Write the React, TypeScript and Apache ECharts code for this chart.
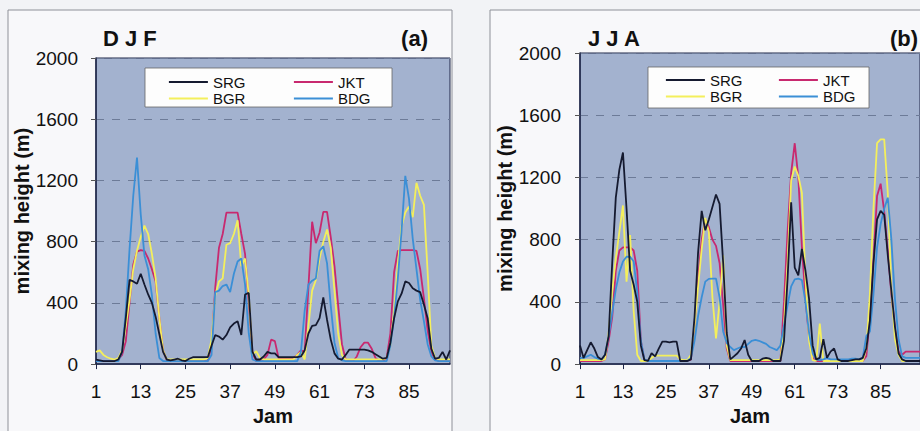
import React, { useEffect, useRef } from "react";
import * as echarts from "echarts";

const HOURS = Array.from({ length: 96 }, (_, i) => String(i + 1));
const SERIES_NAMES = ["JKT", "BGR", "BDG", "SRG"];
const COLORS: Record<string, string> = {
  SRG: "#151a30",
  JKT: "#c8296f",
  BGR: "#f4ef5c",
  BDG: "#3b8fd6",
};
const Y_MAX = 2000;
const Y_STEP = 400;
const PANEL_TITLES = ["D J F", "J J A"];
const PANEL_TAGS = ["(a)", "(b)"];

// DJF (a)
const DJF_SRG = [
  30, 25, 20, 20, 20, 20, 30, 80, 300, 550,
  540, 525, 590, 520, 455, 400, 310, 195, 80, 30,
  25, 30, 35, 25, 20, 35, 45, 45, 45, 45,
  45, 120, 190, 180, 160, 190, 240, 265, 280, 190,
  455, 465, 80, 30, 30, 50, 80, 70, 70, 45,
  45, 45, 45, 45, 45, 50, 90, 200, 250, 255,
  300, 435, 290, 160, 70, 35, 30, 60, 95, 95,
  95, 95, 95, 90, 80, 65, 50, 35, 40, 140,
  300, 410, 460, 540, 530, 495, 480, 470, 390, 300,
  100, 35, 40, 80, 30, 90,
];
const DJF_JKT = [
  20, 20, 20, 20, 20, 20, 30, 60, 150, 400,
  650, 735, 745, 740, 690, 620, 540, 300, 90, 25,
  20, 20, 20, 20, 20, 20, 20, 20, 20, 20,
  20, 120, 500, 760, 850, 990, 990, 990, 990, 850,
  720, 400, 70, 20, 30, 30, 60, 160, 150, 40,
  40, 40, 40, 40, 60, 90, 80, 500, 930, 790,
  860, 995, 995, 830, 640, 380, 130, 30, 20, 20,
  50, 110, 140, 140, 100, 40, 20, 20, 40, 200,
  600, 740, 745, 745, 745, 745, 740, 620, 430, 220,
  80, 30, 20, 20, 20, 20,
];
const DJF_BGR = [
  80, 90, 60, 45, 35, 30, 40, 90, 250, 420,
  620, 740, 830, 905, 850, 720, 560, 300, 90, 30,
  30, 30, 30, 30, 30, 30, 30, 30, 30, 30,
  40, 160, 450, 540, 560, 780, 790, 850, 940, 640,
  690, 450, 60, 85, 40, 30, 30, 30, 30, 30,
  30, 30, 30, 30, 60, 80, 30, 250, 480, 550,
  690, 800, 880, 760, 480, 200, 60, 30, 30, 30,
  30, 30, 30, 30, 30, 30, 30, 30, 40, 120,
  350, 650, 900, 990, 1030, 960, 1185, 1100, 1040, 600,
  120, 40, 30, 30, 30, 30,
];
const DJF_BDG = [
  20, 20, 20, 20, 20, 20, 20, 80, 350, 750,
  1100, 1350, 980, 710, 620, 450, 200, 40, 20, 20,
  20, 20, 20, 20, 20, 20, 20, 20, 20, 20,
  20, 60, 470, 480, 510, 520, 470, 590, 670, 690,
  520, 200, 30, 20, 20, 20, 20, 20, 20, 20,
  20, 20, 20, 20, 20, 80, 350, 520, 545, 560,
  740, 770, 660, 380, 140, 40, 25, 20, 20, 20,
  20, 20, 20, 20, 20, 20, 20, 20, 20, 120,
  300, 560, 870, 1230, 1080, 820, 620, 420, 280, 130,
  50, 25, 20, 20, 20, 20,
];

// JJA (b)
const JJA_SRG = [
  120, 40, 90, 140, 100, 45, 30, 60, 180, 650,
  1070, 1250, 1360, 1000, 600, 510, 400, 120, 25, 20,
  70, 50, 100, 145, 145, 140, 145, 145, 20, 20,
  20, 30, 300, 720, 985, 860, 930, 1010, 1090, 1030,
  650, 200, 30, 50, 70, 100, 155, 60, 20, 20,
  20, 35, 40, 35, 20, 20, 20, 150, 550, 1040,
  620, 570, 740, 600, 420, 120, 30, 40, 160, 40,
  80, 100, 30, 20, 20, 20, 25, 30, 30, 40,
  100, 280, 650, 930, 985, 960, 700, 470, 240, 70,
  30, 20, 20, 20, 20, 20,
];
const JJA_JKT = [
  20, 20, 20, 20, 20, 20, 20, 30, 150, 300,
  600, 730, 750, 750, 750, 730, 600, 150, 25, 20,
  20, 20, 20, 20, 20, 20, 20, 20, 20, 20,
  20, 30, 250, 550, 800, 930, 880, 800, 760, 650,
  380, 100, 20, 20, 20, 20, 20, 20, 20, 20,
  20, 20, 20, 20, 20, 20, 20, 400, 850, 1230,
  1420, 1200, 750, 420, 170, 40, 20, 20, 20, 20,
  20, 20, 20, 20, 20, 20, 20, 20, 20, 20,
  50, 300, 680, 1080, 1160, 980, 730, 450, 230, 80,
  60, 80, 80, 80, 80, 80,
];
const JJA_BGR = [
  25, 25, 25, 25, 25, 25, 25, 30, 200, 470,
  680, 850, 1020, 530, 830, 340, 60, 20, 20, 20,
  40, 55, 55, 55, 55, 55, 55, 55, 30, 25,
  25, 60, 250, 500, 740, 940, 850, 430, 165, 400,
  700, 120, 25, 25, 25, 25, 25, 25, 25, 25,
  25, 25, 25, 25, 25, 25, 30, 250, 650, 1180,
  1270, 1210, 1100, 550, 150, 25, 20, 260, 20, 20,
  20, 20, 20, 20, 20, 20, 20, 20, 20, 20,
  100, 450, 1000, 1420, 1445, 1445, 1100, 480, 160, 60,
  20, 20, 20, 20, 20, 20,
];
const JJA_BDG = [
  40, 40, 50, 60, 45, 35, 30, 60, 180, 330,
  480, 590, 660, 690, 690, 660, 460, 150, 30, 20,
  20, 20, 20, 20, 20, 20, 20, 20, 20, 20,
  20, 40, 150, 310, 430, 530, 548, 550, 550, 430,
  210, 135, 110, 90, 100, 110, 110, 130, 150, 155,
  150, 140, 130, 110, 100, 90, 120, 250, 380, 500,
  545, 550, 540, 400, 200, 70, 30, 25, 30, 40,
  30, 30, 30, 30, 30, 30, 35, 35, 30, 40,
  180, 210, 450, 750, 900, 1000, 1070, 800, 420, 160,
  50, 40, 40, 40, 40, 40,
];

const PANEL_DATA: Record<string, number[]>[] = [
  { SRG: DJF_SRG, JKT: DJF_JKT, BGR: DJF_BGR, BDG: DJF_BDG },
  { SRG: JJA_SRG, JKT: JJA_JKT, BGR: JJA_BGR, BDG: JJA_BDG },
];

const FONT = "'Liberation Sans', Arial, sans-serif";
const AXIS_DARK = "#1e2648";
const PLOT_BG = "#a3b2cf";
const GRID_LINE = "#6d7b98";

const LAYOUT = [
  { left: 96, top: 58, width: 354, height: 310, labelMargin: 18, nameGap: 57, frameX: 8, frameW: 444,
    legBox: [145, 68, 247, 39], leg1: [168, 74.5], leg2: [293, 74.5], titleX: 103, tagX: 428 },
  { left: 580, top: 53, width: 350, height: 315, labelMargin: 19, nameGap: 58, frameX: 490, frameW: 440,
    legBox: [648, 67, 221, 41], leg1: [665, 72.5], leg2: [778, 72.5], titleX: 588, tagX: 918 },
];

export default function App() {
  const ref = useRef<HTMLDivElement>(null);
  useEffect(() => {
    if (!ref.current) return;
    const chart = echarts.init(ref.current, undefined, { renderer: "svg" });

    const grids: any[] = [];
    const xAxes: any[] = [];
    const yAxes: any[] = [];
    const series: any[] = [];
    const legends: any[] = [];
    const graphics: any[] = [];

    LAYOUT.forEach((L, p) => {
      graphics.push({
        type: "rect", z: -10,
        shape: { x: L.frameX, y: 10, width: L.frameW, height: 440 },
        style: { fill: "#f8f8fa", stroke: "#8e9098", lineWidth: 1 },
      });
      graphics.push({
        type: "text", z: 5, x: L.titleX, y: 38,
        style: { text: PANEL_TITLES[p], font: `bold 22px ${FONT}`, fill: "#111", textVerticalAlign: "middle" },
      });
      graphics.push({
        type: "text", z: 5, x: L.tagX, y: 38,
        style: { text: PANEL_TAGS[p], font: `bold 22px ${FONT}`, fill: "#111", textAlign: "right", textVerticalAlign: "middle" },
      });
      graphics.push({
        type: "rect", z: 3,
        shape: { x: L.legBox[0], y: L.legBox[1], width: L.legBox[2], height: L.legBox[3] },
        style: { fill: "#fdfdfd", stroke: "#666", lineWidth: 0.8 },
      });

      grids.push({
        left: L.left, top: L.top, width: L.width, height: L.height,
        show: true, backgroundColor: PLOT_BG, borderColor: AXIS_DARK, borderWidth: 1, containLabel: false,
      });
      xAxes.push({
        type: "category", gridIndex: p, data: HOURS, boundaryGap: false,
        axisLine: { lineStyle: { color: AXIS_DARK, width: 1.5 } },
        axisTick: { show: true, interval: 11, length: 5, lineStyle: { color: AXIS_DARK } },
        axisLabel: { interval: 11, fontSize: 19, color: "#111", margin: 18, fontFamily: FONT },
        splitLine: { show: false },
        name: "Jam", nameLocation: "middle", nameGap: 38,
        nameTextStyle: { fontWeight: "bold", fontSize: 20, color: "#111", fontFamily: FONT },
      });
      yAxes.push({
        type: "value", gridIndex: p, min: 0, max: Y_MAX, interval: Y_STEP,
        axisLine: { show: true, lineStyle: { color: AXIS_DARK, width: 1.5 } },
        axisTick: { show: true, length: 5, lineStyle: { color: "#555" } },
        axisLabel: {
          fontSize: 19, color: "#111", margin: L.labelMargin, fontFamily: FONT,
          formatter: (v: number) => String(v),
        },
        splitLine: { show: true, lineStyle: { color: GRID_LINE, type: [8, 8], width: 1 } },
        name: "mixing height (m)", nameLocation: "middle", nameGap: L.nameGap,
        nameTextStyle: { fontWeight: "bold", fontSize: 20, color: "#111", fontFamily: FONT },
      });
      SERIES_NAMES.forEach((n) => {
        series.push({
          type: "line", name: n, xAxisIndex: p, yAxisIndex: p,
          data: PANEL_DATA[p][n], symbol: "none", showSymbol: false,
          lineStyle: { color: COLORS[n], width: 1.8 }, itemStyle: { color: COLORS[n] },
          z: 2,
        });
      });
      const legCommon = {
        orient: "vertical", itemWidth: 39, itemHeight: 15, itemGap: 1.5, padding: 0,
        selectedMode: false, z: 6,
        itemStyle: { opacity: 0 },
        lineStyle: { width: 1.8 },
        textStyle: { fontSize: 15, color: "#111", fontFamily: FONT, lineHeight: 15 },
      };
      legends.push({ ...legCommon, left: L.leg1[0], top: L.leg1[1], data: ["SRG", "BGR"] });
      legends.push({ ...legCommon, left: L.leg2[0], top: L.leg2[1], data: ["JKT", "BDG"] });
    });

    chart.setOption({
      animation: false,
      backgroundColor: "#f2f3f6",
      textStyle: { fontFamily: FONT },
      grid: grids,
      xAxis: xAxes,
      yAxis: yAxes,
      legend: legends,
      series,
      graphic: graphics,
    });
    return () => chart.dispose();
  }, []);
  return (
    <div
      ref={ref}
      style={{ position: "fixed", left: 0, top: 0, width: 920, height: 431 }}
    />
  );
}
